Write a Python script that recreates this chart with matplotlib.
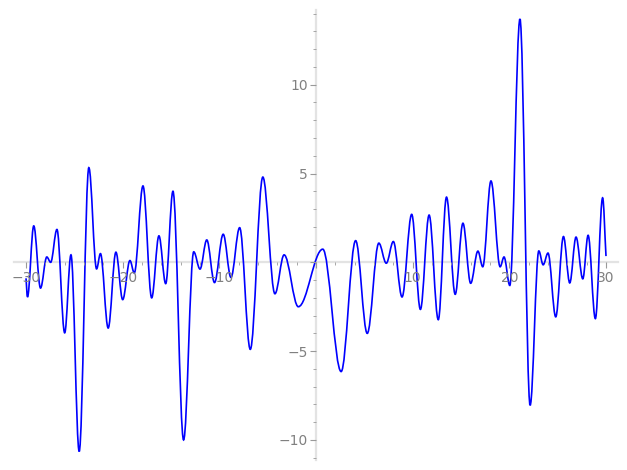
import matplotlib
matplotlib.use("Agg")
import matplotlib.pyplot as plt
from matplotlib.path import Path
from matplotlib.patches import PathPatch
from matplotlib.ticker import MultipleLocator, FuncFormatter

# turning points of the curve (start, extrema, end)
xs = [-30.0, -29.85, -29.2, -28.5, -27.85, -27.45, -26.8, -26.0, -25.35, -24.5,
      -23.5, -22.7, -22.3, -21.5, -20.7, -20.0, -19.25, -18.8, -17.9, -17.0,
      -16.25, -15.55, -14.8, -13.7, -12.65, -12.0, -11.3, -10.5, -9.6, -8.8,
      -7.9, -6.8, -5.5, -4.25, -3.3, -1.83, 0.7, 2.6, 4.1, 5.3,
      6.5, 7.27, 8.0, 8.9, 9.9, 10.8, 11.7, 12.65, 13.5, 14.4,
      15.2, 16.0, 16.75, 17.25, 18.1, 19.05, 19.45, 20.05, 21.1, 22.15,
      23.05, 23.5, 24.0, 24.8, 25.6, 26.25, 26.9, 27.6, 28.15, 28.9,
      29.65, 30.0]
ys = [-0.9, -1.95, 2.05, -1.45, 0.3, 0.0, 1.85, -3.97, 0.42, -10.65,
      5.33, -0.37, 0.49, -3.7, 0.57, -2.1, 0.1, -0.6, 4.3, -2.0,
      1.49, -1.2, 4.0, -10.0, 0.59, -0.38, 1.26, -1.14, 1.58, -0.85,
      1.95, -4.9, 4.8, -1.77, 0.42, -2.5, 0.74, -6.15, 1.22, -4.0,
      1.08, -0.05, 1.17, -1.95, 2.7, -2.65, 2.66, -3.23, 3.67, -1.8,
      2.2, -1.18, 0.63, -0.25, 4.58, -0.25, 0.3, -1.3, 13.7, -8.05,
      0.64, -0.14, 0.52, -3.07, 1.45, -1.16, 1.42, -0.93, 1.52, -3.17,
      3.63, 0.35]

# smooth curve through the turning points (flat tangents at extrema)
k = 0.36
verts = [(xs[0], ys[0])]
codes = [Path.MOVETO]
n = len(xs)
for i in range(n - 1):
    x0, y0, x1, y1 = xs[i], ys[i], xs[i + 1], ys[i + 1]
    dx = x1 - x0
    c1 = (x0 + k * dx, y0 if i > 0 else y0 + k * (y1 - y0))
    c2 = (x1 - k * dx, y1 if i < n - 2 else y1 + k * (y0 - y1))
    verts += [c1, c2, (x1, y1)]
    codes += [Path.CURVE4] * 3

fig = plt.figure(figsize=(6.27, 4.70), dpi=100)
ax = fig.add_axes([0.023, 0.021, 0.962, 0.957])
ax.add_patch(PathPatch(Path(verts, codes), facecolor="none", edgecolor="blue", lw=1.2))

xpad = 0.02 * (max(xs) - min(xs))
ypad = 0.02 * (max(ys) - min(ys))
ax.set_xlim(min(xs) - xpad, max(xs) + xpad)
ax.set_ylim(min(ys) - ypad, max(ys) + ypad)

# sage-like axes through the origin
for s in ["top", "right"]:
    ax.spines[s].set_visible(False)
ax.spines["left"].set_position(("data", 0))
ax.spines["bottom"].set_position(("data", 0))
for s in ["left", "bottom"]:
    ax.spines[s].set_color("#e3e3e3")
    ax.spines[s].set_linewidth(1.6)
    ax.spines[s].set_zorder(0)

ax.xaxis.set_major_locator(MultipleLocator(10))
ax.xaxis.set_minor_locator(MultipleLocator(2))
ax.yaxis.set_major_locator(MultipleLocator(5))
ax.yaxis.set_minor_locator(MultipleLocator(1))
fmt = FuncFormatter(lambda v, p: "" if abs(v) < 1e-9 else f"{v:g}".replace("-", "\u2212"))
ax.xaxis.set_major_formatter(fmt)
ax.yaxis.set_major_formatter(fmt)
ax.tick_params(which="major", length=4, width=0.8, color="#999999",
               labelcolor="#808080", labelsize=10, pad=2)
ax.tick_params(which="minor", length=2.5, width=0.6, color="#999999")

fig.savefig("out.png", dpi=100)
